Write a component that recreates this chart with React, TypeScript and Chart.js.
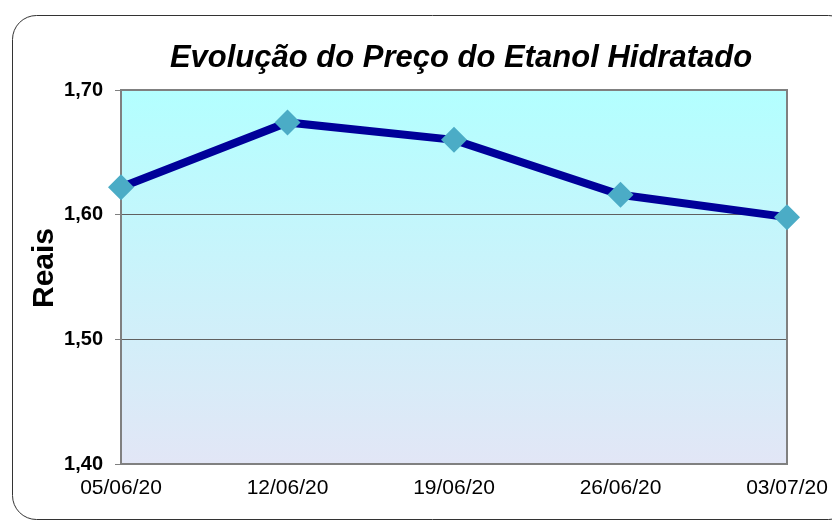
import React, { useEffect, useRef } from "react";
import { Chart, registerables } from "chart.js";

Chart.register(...registerables);

const categories = ["05/06/20", "12/06/20", "19/06/20", "26/06/20", "03/07/20"];
const prices = [1.622, 1.674, 1.66, 1.616, 1.598];
const yTicks = [1.4, 1.5, 1.6, 1.7];
const chartTitle = "Evolução do Preço do Etanol Hidratado";
const yTitle = "Reais";

const FONT = '"Liberation Sans", Arial, sans-serif';

const decorPlugin = {
  id: "decor",
  beforeDraw(chart: any) {
    const { ctx, chartArea } = chart;
    ctx.save();
    ctx.strokeStyle = "#333333";
    ctx.lineWidth = 1;
    ctx.beginPath();
    (ctx as any).roundRect(12.5, 15.5, 840, 504, 24);
    ctx.stroke();
    const g = ctx.createLinearGradient(0, chartArea.top, 0, chartArea.bottom);
    g.addColorStop(0, "#B3FFFF");
    g.addColorStop(1, "#E2E6F6");
    ctx.fillStyle = g;
    ctx.fillRect(chartArea.left, chartArea.top, chartArea.right - chartArea.left, chartArea.bottom - chartArea.top);
    ctx.restore();
  },
  beforeDatasetsDraw(chart: any) {
    const { ctx, chartArea } = chart;
    ctx.save();
    ctx.strokeStyle = "#808080";
    ctx.lineWidth = 2;
    ctx.strokeRect(chartArea.left, chartArea.top, chartArea.right - chartArea.left, chartArea.bottom - chartArea.top);
    ctx.restore();
  },
  afterDraw(chart: any) {
    const { ctx } = chart;
    ctx.save();
    ctx.fillStyle = "#000000";
    ctx.font = `italic bold 31px ${FONT}`;
    ctx.textAlign = "center";
    ctx.textBaseline = "alphabetic";
    ctx.fillText(chartTitle, 461, 67);
    ctx.translate(45, 268);
    ctx.rotate(-Math.PI / 2);
    ctx.font = `bold 30px ${FONT}`;
    ctx.textBaseline = "middle";
    ctx.fillText(yTitle, 0, 0);
    ctx.restore();
  },
};

export default function App() {
  const ref = useRef<HTMLCanvasElement | null>(null);
  useEffect(() => {
    if (!ref.current) return;
    const chart = new Chart(ref.current, {
      type: "line",
      data: {
        labels: categories,
        datasets: [
          {
            data: prices,
            borderColor: "#000099",
            borderWidth: 8,
            backgroundColor: "#4BACC6",
            pointStyle: "rectRot",
            pointRadius: 13,
            pointHoverRadius: 13,
            pointBackgroundColor: "#4BACC6",
            pointBorderColor: "#4BACC6",
            pointBorderWidth: 0,
            tension: 0,
            fill: false,
            clip: false as any,
          },
        ],
      },
      options: {
        animation: false,
        responsive: false,
        maintainAspectRatio: false,
        layout: { padding: { left: 20, right: 45, top: 90, bottom: 0 } },
        plugins: {
          legend: { display: false },
          title: { display: false },
          tooltip: { enabled: false },
        },
        scales: {
          x: {
            type: "category",
            offset: false,
            grid: { display: false, drawTicks: false },
            border: { display: false },
            ticks: {
              color: "#000000",
              font: { family: FONT, size: 21 },
              padding: 12,
              maxRotation: 0,
              autoSkip: false,
            },
            afterFit(scale: any) {
              scale.height = 58;
              scale.paddingLeft = 0;
              scale.paddingRight = 0;
            },
          },
          y: {
            min: 1.4,
            max: 1.7,
            afterBuildTicks(scale: any) {
              scale.ticks = yTicks.map((v) => ({ value: v }));
            },
            grid: {
              color: "#606060",
              lineWidth: 1,
              drawTicks: true,
              tickLength: 6,
              tickColor: "#808080",
            },
            border: { display: false },
            ticks: {
              color: "#000000",
              font: { family: FONT, size: 20, weight: "bold" },
              padding: 12,
              callback: (v: any) => Number(v).toFixed(2).replace(".", ","),
            },
            afterFit(scale: any) {
              scale.width = 101;
            },
          },
        },
      },
      plugins: [decorPlugin],
    });
    return () => chart.destroy();
  }, []);
  return (
    <div style={{ position: "fixed", left: 0, top: 0, width: 832, height: 522, background: "#fff" }}>
      <canvas ref={ref} width={832} height={522} style={{ width: 832, height: 522, display: "block" }} />
    </div>
  );
}
